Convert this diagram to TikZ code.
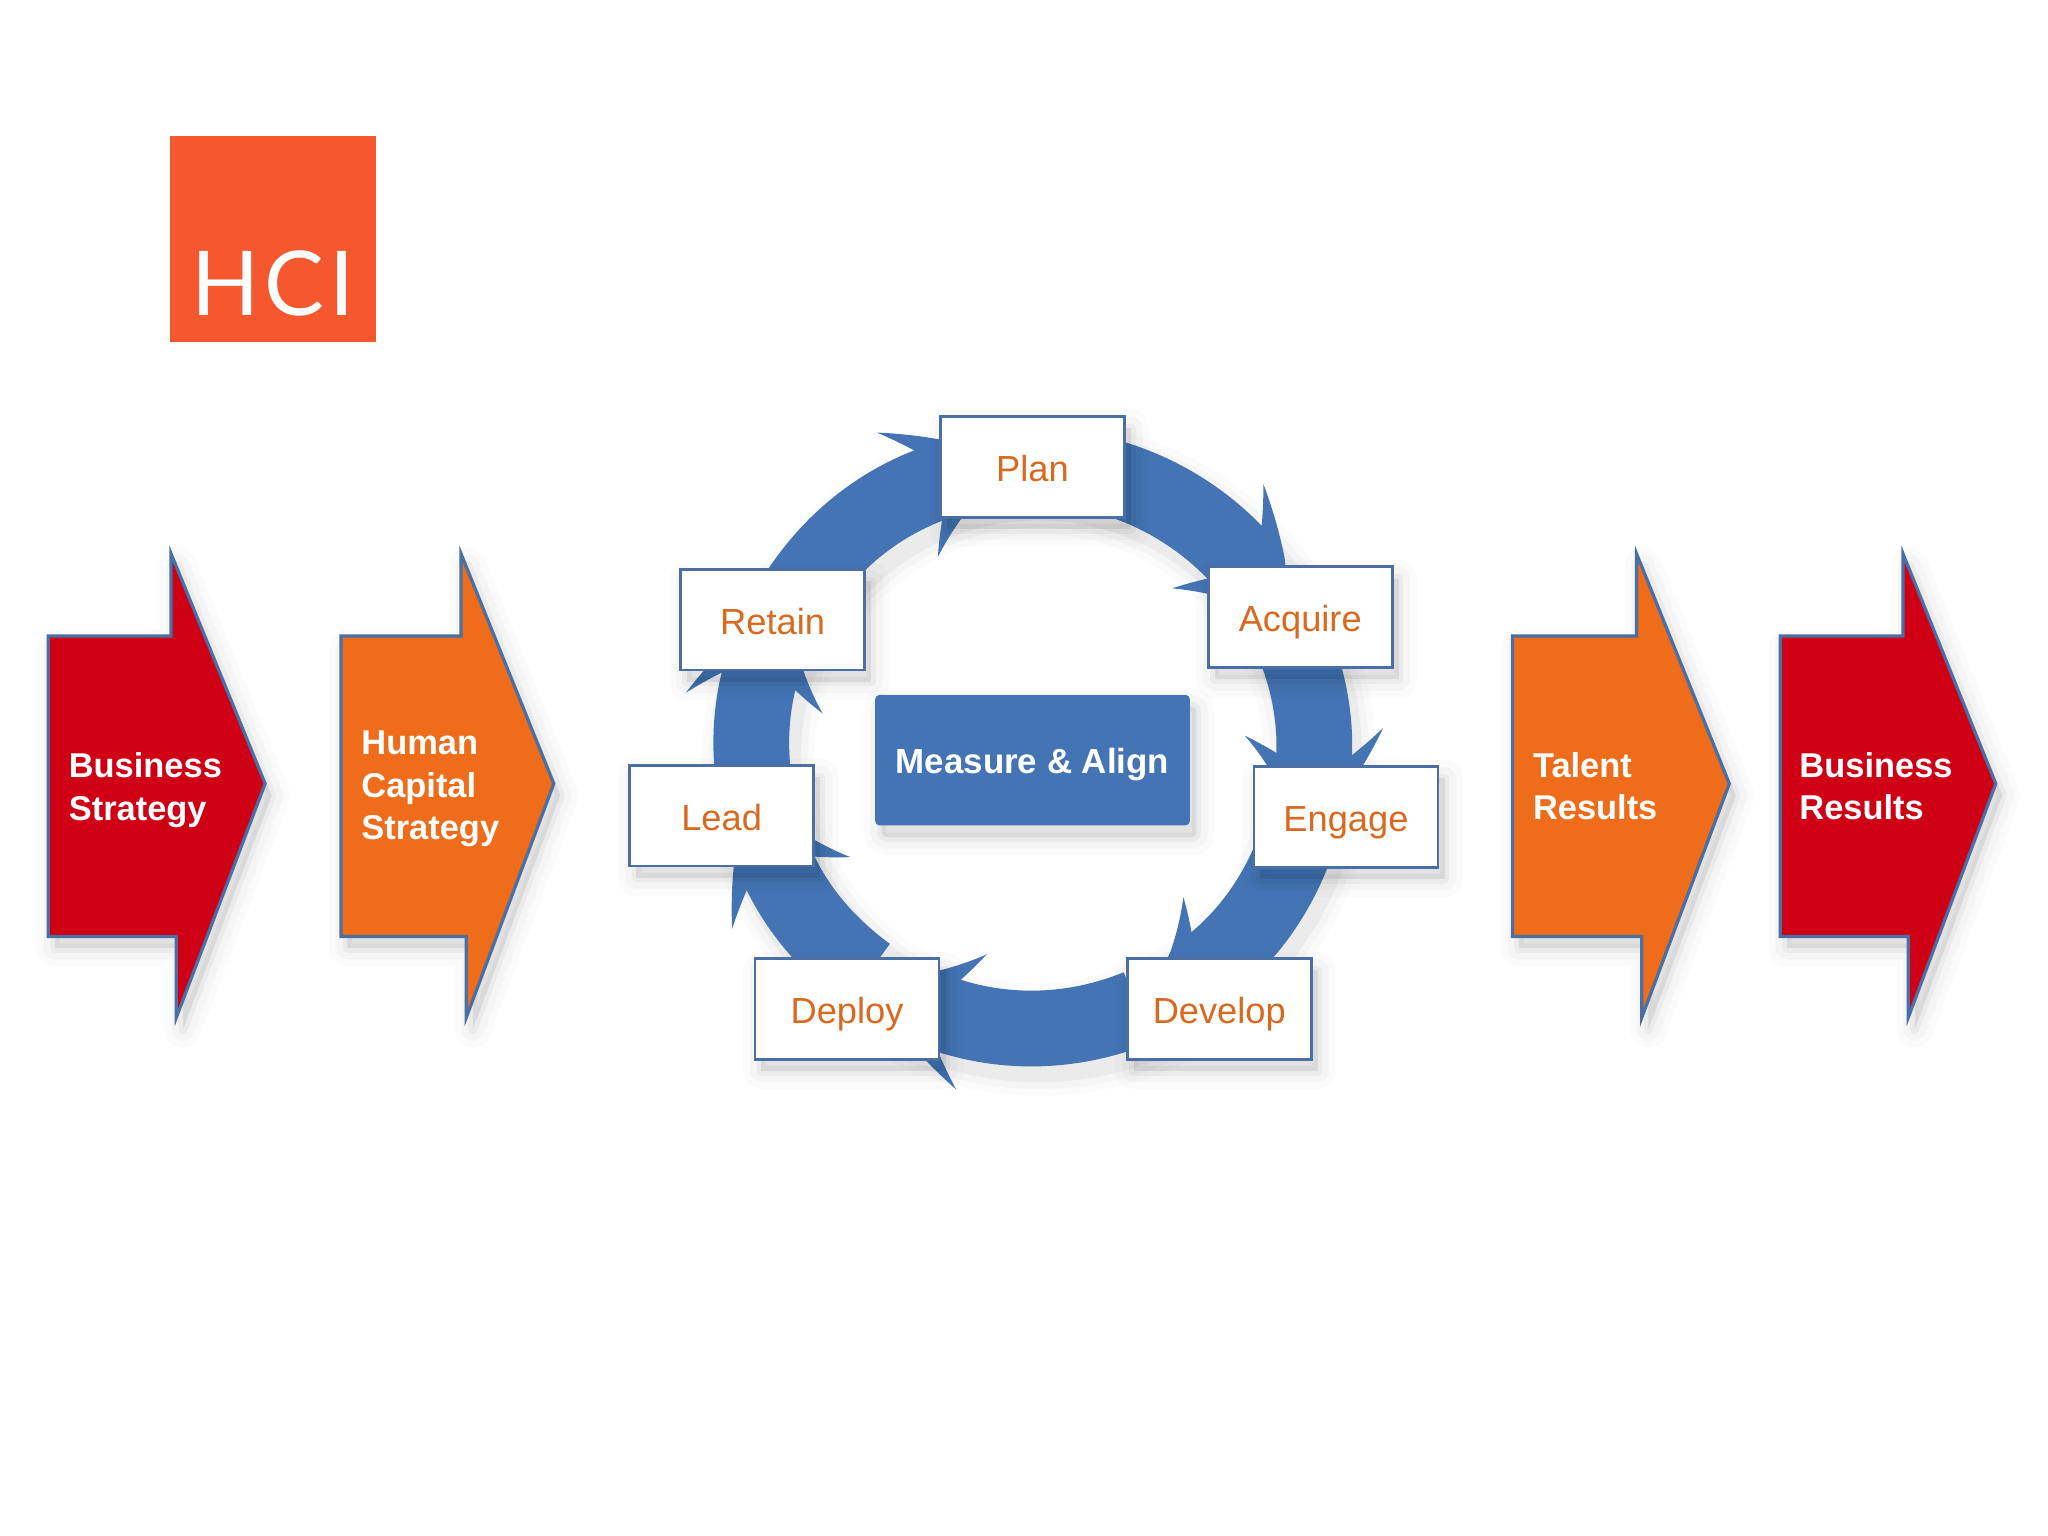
\documentclass[tikz,border=0pt]{standalone}
\usepackage{fontspec}
\setmainfont{Liberation Sans}
\newfontfamily\logofont[LetterSpace=6]{Lato}
\usepackage{xcolor}
\usetikzlibrary{arrows.meta,bending,calc}

\definecolor{hcired}{HTML}{CF0016}
\definecolor{hciorange}{HTML}{EE6C1A}
\definecolor{hciblue}{HTML}{4474B4}
\definecolor{hciedge}{HTML}{4A6FA5}
\definecolor{hcilogo}{HTML}{F5572F}
\definecolor{hcitext}{HTML}{D9691F}

\begin{document}
\begin{tikzpicture}[
  softshadow/.style={
    preaction={draw=black, fill=black, line width=8pt, line join=round, opacity=.014, transform canvas={shift={(.05,-.09)}}},
    preaction={draw=black, fill=black, line width=5pt, line join=round, opacity=.025, transform canvas={shift={(.05,-.09)}}},
    preaction={draw=black, fill=black, line width=2pt, line join=round, opacity=.04, transform canvas={shift={(.05,-.09)}}}},
  ringshadow/.style={
    preaction={draw=black, line width=.58cm+8pt, opacity=.014, transform canvas={shift={(.05,-.09)}}},
    preaction={draw=black, line width=.58cm+5pt, opacity=.025, transform canvas={shift={(.05,-.09)}}},
    preaction={draw=black, line width=.58cm+2pt, opacity=.04, transform canvas={shift={(.05,-.09)}}}},
  bigarrow/.style={draw=hciedge, line width=.7pt, line join=miter, softshadow},
  biglabel/.style={anchor=west, align=left, inner sep=0pt, text=white, font=\fontsize{7.5}{9.3}\selectfont\bfseries},
  stage/.style={draw=hciedge, line width=.6pt, fill=white, minimum width=1.41cm, minimum height=.77cm, inner sep=0pt, text height=.3cm, text depth=.08cm, text=hcitext, font=\fontsize{7.9}{9}\selectfont, softshadow},
  cyc/.style={draw=hciblue, line width=.58cm, -{Stealth[length=.9cm, width=1.06cm, inset=.4cm, line width=0pt, bend]}}]
  \useasboundingbox (0,0) rectangle (15.68,-11.76);

  % logo
  \node[fill=hcilogo, minimum size=1.58cm, inner sep=0pt] (logo) at (2.09,-1.83) {};
  \node[text=white, font=\logofont\fontsize{19.5}{22}\selectfont, inner sep=0pt] (logotext) at (2.09,-2.17) {HCI};

  % big arrows
  \draw[bigarrow, fill=hcired] (.37,-4.87) -- (1.31,-4.87) -- (1.31,-4.24) -- (2.03,-6.00) -- (1.35,-7.79) -- (1.35,-7.17) -- (.37,-7.17) -- cycle;
  \draw[bigarrow, fill=hciorange] (2.61,-4.87) -- (3.53,-4.87) -- (3.53,-4.24) -- (4.24,-6.00) -- (3.57,-7.79) -- (3.57,-7.17) -- (2.61,-7.17) -- cycle;
  \draw[bigarrow, fill=hciorange] (11.58,-4.87) -- (12.53,-4.87) -- (12.53,-4.24) -- (13.24,-6.00) -- (12.57,-7.79) -- (12.57,-7.17) -- (11.58,-7.17) -- cycle;
  \draw[bigarrow, fill=hcired] (13.63,-4.87) -- (14.57,-4.87) -- (14.57,-4.24) -- (15.28,-6.00) -- (14.61,-7.79) -- (14.61,-7.17) -- (13.63,-7.17) -- cycle;
  \node[biglabel] (bizstrategy) at (.52,-6.05) {Business\\Strategy};
  \node[biglabel] (hcstrategy) at (2.76,-6.04) {Human\\Capital\\Strategy};
  \node[biglabel] (talent) at (11.73,-6.02) {Talent\\Results};
  \node[biglabel] (bizresults) at (13.77,-6.02) {Business\\Results};

  % ring: the ends lie under the boxes
  \coordinate (ringc) at (7.905,-5.72);
  \coordinate (inplan) at ($(ringc)+(93:2.15)$);
  \coordinate (inacquire) at ($(ringc)+(25:2.15)$);
  \coordinate (inengage) at ($(ringc)+(-20:2.15)$);
  \coordinate (indevelop) at ($(ringc)+(-68:2.15)$);
  \coordinate (indeploy) at ($(ringc)+(-126:2.15)$);
  \coordinate (inlead) at ($(ringc)+(-172:2.15)$);
  \coordinate (inretain) at ($(ringc)+(148:2.15)$);
  \path[ringshadow] (ringc) circle[radius=2.15];
  \draw[cyc] (inplan) to[bend left=34, looseness=.93] (inacquire);
  \draw[cyc] (inacquire) to[bend left=22.5, looseness=.93] (inengage);
  \draw[cyc] (inengage) to[bend left=24, looseness=.93] (indevelop);
  \draw[cyc] (indevelop) to[bend left=29, looseness=.93] (indeploy);
  \draw[cyc] (indeploy) to[bend left=23, looseness=.93] (inlead);
  \draw[cyc] (inlead) to[bend left=20, looseness=.93] (inretain);
  \draw[cyc] (inretain) to[bend left=27.5, looseness=.93] (inplan);

  % boxes
  \node[stage] (plan) at (7.905,-3.575) {Plan};
  \node[stage] (acquire) at (9.955,-4.725) {Acquire};
  \node[stage] (engage) at (10.305,-6.255) {Engage};
  \node[stage] (develop) at (9.335,-7.725) {Develop};
  \node[stage] (deploy) at (6.485,-7.725) {Deploy};
  \node[stage] (lead) at (5.525,-6.245) {Lead};
  \node[stage] (retain) at (5.915,-4.745) {Retain};
  \node[fill=hciblue, rounded corners=1pt, minimum width=2.41cm, minimum height=1cm, inner sep=0pt, text height=.28cm, text depth=.08cm, text=white, font=\fontsize{7.6}{9}\selectfont\bfseries, softshadow] (measure) at (7.905,-5.82) {Measure \& Align};
\end{tikzpicture}
\end{document}
